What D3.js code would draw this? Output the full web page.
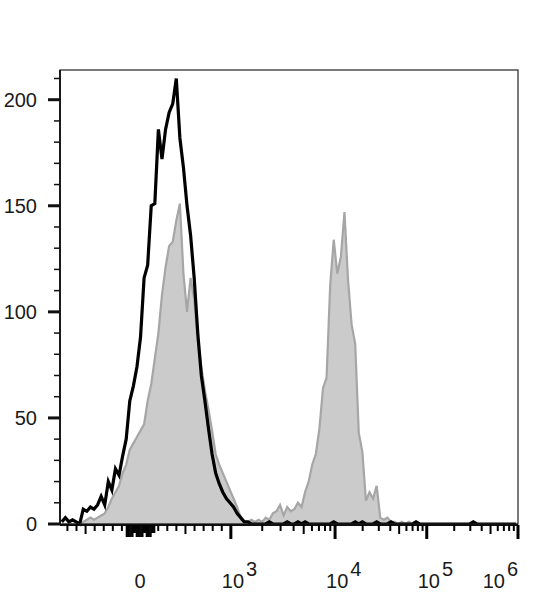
<!DOCTYPE html>
<meta charset="utf-8">
<style>
body { margin: 0; background: #fff; }
text { font-family: "Liberation Sans", Arial, sans-serif; fill: #1a1a1a; }
.gray { fill: #cbcbcb; stroke: #a6a6a6; stroke-width: 2.2px; }
.black { fill: none; stroke: #000; stroke-width: 3.2px; }
</style>
<body>
<div id="chart"></div>
<script src="https://d3js.org/d3.v7.min.js"></script>
<script>

// histogram counts in 128 display-channel bins (8 channels each, 0..1024)
var binWidth = 8;

// stained sample (grey, filled)
var grayCounts = [
  0, 0, 0, 0, 0, 0, 1, 2, 3, 2,
  3, 4, 5, 8, 12, 15, 18, 24, 28, 35,
  38, 41, 44, 47, 58, 66, 78, 90, 108, 121,
  131, 133, 143, 151, 118, 100, 116, 106, 86, 74,
  63, 54, 44, 33, 28, 24, 20, 16, 12, 8,
  3, 1, 1, 2, 1, 2, 1, 3, 2, 5,
  6, 9, 4, 8, 6, 7, 10, 8, 15, 20,
  28, 33, 45, 64, 69, 112, 134, 118, 126, 147,
  115, 94, 85, 43, 34, 11, 15, 12, 18, 3,
  2, 3, 1, 1, 0, 1, 0, 1, 0, 1,
  0, 0, 0, 0, 0, 0, 0, 0, 0, 0,
  0, 0, 0, 0, 0, 0, 0, 0, 0, 0,
  0, 0, 0, 0, 0, 0, 0, 0
];

// control (black line)
var blackCounts = [
  1, 3, 1, 2, 1, 0, 7, 6, 8, 7,
  9, 13, 9, 20, 16, 26, 23, 32, 40, 58,
  65, 74, 88, 116, 122, 150, 151, 186, 172, 186,
  194, 198, 210, 182, 168, 150, 136, 116, 90, 70,
  58, 45, 33, 24, 19, 15, 12, 10, 8, 5,
  3, 1, 1, 0, 0, 0, 0, 0, 1, 0,
  0, 0, 0, 1, 0, 0, 1, 0, 1, 0,
  0, 0, 0, 0, 0, 0, 1, 0, 0, 0,
  0, 0, 1, 0, 1, 0, 0, 0, 1, 0,
  0, 0, 1, 0, 0, 0, 0, 0, 0, 1,
  0, 0, 0, 0, 0, 0, 0, 0, 0, 0,
  0, 0, 0, 0, 0, 1, 0, 0, 0, 0,
  0, 0, 0, 0, 0, 0, 0, 0
];

var yMajorTicks = [0, 50, 100, 150, 200];
var yMinorTicks = [10, 20, 30, 40, 60, 70, 80, 90, 110, 120, 130, 140, 160, 170, 180, 190, 210];
var decadeExponents = [3, 4, 5, 6];
var linearTicks = [-800, -700, -600, -500, -400, -300, -200, 200, 300, 400, 500, 600, 700, 800, 900];

var margin = {top: 70, right: 16, bottom: 76, left: 60},
    width = 534 - margin.left - margin.right,
    height = 600 - margin.top - margin.bottom;

var svg = d3.select("#chart").append("svg")
    .attr("width", width + margin.left + margin.right)
    .attr("height", height + margin.top + margin.bottom)
  .append("g")
    .attr("transform", "translate(" + margin.left + "," + margin.top + ")");

// display channel -> px, count -> px
var x = d3.scaleLinear().domain([0, 1024]).range([0, width]);
var y = d3.scaleLinear().domain([0, 214]).range([height, 0]);

// biexponential-ish display transform: value -> display channel
var linPart = d3.scaleLinear().domain([0, 1000]).range([179, 382]);
var logPart = d3.scaleLinear().domain([3, 4, 5, 6]).range([382, 615, 820, 1024]);
function channel(v) {
  return v < 1000 ? linPart(v) : logPart(Math.log10(v));
}

function toPoints(counts) {
  return counts.map(function(c, i) { return {ch: (i + 0.5) * binWidth, n: c}; });
}

var area = d3.area()
    .x(function(d) { return x(d.ch); })
    .y0(y(0))
    .y1(function(d) { return y(d.n); });

var line = d3.line()
    .x(function(d) { return x(d.ch); })
    .y(function(d) { return y(d.n); });

svg.append("path")
    .datum(toPoints(grayCounts))
    .attr("class", "gray")
    .attr("d", area);

svg.append("path")
    .datum(toPoints(blackCounts))
    .attr("class", "black")
    .attr("d", line);

// frame
svg.append("rect")
    .attr("width", width)
    .attr("height", height)
    .attr("fill", "none")
    .attr("stroke", "#222")
    .attr("stroke-width", 1.2);

svg.append("line")
    .attr("x1", 0).attr("x2", 0).attr("y1", 0).attr("y2", height)
    .attr("stroke", "#111").attr("stroke-width", 1.8);
svg.append("line")
    .attr("x1", 0).attr("x2", width).attr("y1", height + 1).attr("y2", height + 1)
    .attr("stroke", "#111").attr("stroke-width", 1.8);

// y axis
var yAxis = svg.append("g");
yAxis.selectAll(".ymin")
  .data(yMinorTicks)
  .enter().append("line")
    .attr("x1", -6).attr("x2", 0)
    .attr("y1", function(d) { return y(d); })
    .attr("y2", function(d) { return y(d); })
    .attr("stroke", "#111").attr("stroke-width", 1.5);
yAxis.selectAll(".ymaj")
  .data(yMajorTicks)
  .enter().append("line")
    .attr("x1", -12).attr("x2", 0)
    .attr("y1", function(d) { return y(d); })
    .attr("y2", function(d) { return y(d); })
    .attr("stroke", "#111").attr("stroke-width", 3);
yAxis.selectAll(".ylab")
  .data(yMajorTicks)
  .enter().append("text")
    .attr("x", -23)
    .attr("y", function(d) { return y(d); })
    .attr("dy", "0.36em")
    .attr("text-anchor", "end")
    .style("font-size", "20px")
    .text(function(d) { return d; });

// x axis ticks
var xTicks = [];
decadeExponents.forEach(function(e) {
  xTicks.push({v: Math.pow(10, e), len: 13, w: 3});
  if (e < 6) {
    for (var k = 2; k <= 9; k++) {
      xTicks.push({v: k * Math.pow(10, e), len: k === 5 ? 8 : 5, w: 2});
    }
  }
});
linearTicks.forEach(function(v) {
  xTicks.push({v: v, len: (v === 500 || v === -600) ? 8 : 5, w: 2});
});
d3.range(-150, 161, 10).forEach(function(v) {
  var shortTick = (v >= -70 && v <= -50) || (v >= 40 && v <= 60) || v >= 130;
  xTicks.push({v: v, len: shortTick ? 7 : 11, w: 1.5});
});

var xAxis = svg.append("g").attr("transform", "translate(0," + (height + 1) + ")");
xAxis.selectAll("line")
  .data(xTicks.filter(function(d) { return channel(d.v) >= 0 && channel(d.v) <= 1024; }))
  .enter().append("line")
    .attr("x1", function(d) { return x(channel(d.v)); })
    .attr("x2", function(d) { return x(channel(d.v)); })
    .attr("y1", 0)
    .attr("y2", function(d) { return d.len + 1; })
    .attr("stroke", "#000")
    .attr("stroke-width", function(d) { return d.w; });

// x labels
var labelY = height + 64;
svg.append("text")
    .attr("x", x(channel(0)))
    .attr("y", labelY)
    .attr("text-anchor", "middle")
    .style("font-size", "20px")
    .text("0");

decadeExponents.forEach(function(e) {
  var t = svg.append("text")
      .attr("x", x(channel(Math.pow(10, e))) - 9)
      .attr("y", labelY)
      .style("font-size", "20px");
  t.append("tspan").text("10");
  t.append("tspan").attr("dx", 2).attr("dy", -12).text(e);
  var w = t.node().getComputedTextLength() + 2;
  var start = +t.attr("x");
  if (start + w > width) t.attr("x", width - w);
});

</script>
</body>
</html>
